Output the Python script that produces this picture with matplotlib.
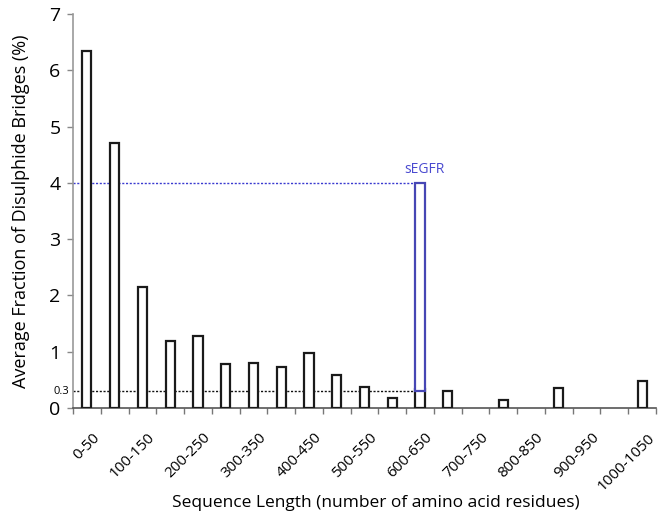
import matplotlib
matplotlib.use('Agg')
import matplotlib.pyplot as plt
import matplotlib.transforms as mtransforms
import numpy as np

plt.rcParams['font.family'] = ['Open Sans', 'DejaVu Sans']

categories = ['0-50', '50-100', '100-150', '150-200', '200-250', '250-300',
              '300-350', '350-400', '400-450', '450-500', '500-550', '550-600',
              '600-650', '650-700', '700-750', '750-800', '800-850', '850-900',
              '900-950', '950-1000', '1000-1050']
values = [6.35, 4.71, 2.15, 1.19, 1.28, 0.78, 0.80, 0.72, 0.97, 0.59, 0.38,
          0.17, 0.33, 0.30, 0.0, 0.14, 0.0, 0.36, 0.0, 0.0, 0.48]
segfr_category = '600-650'
segfr_value = 4.0
threshold = 0.3
y_ticks = [0, 1, 2, 3, 4, 5, 6, 7]

fig = plt.figure(figsize=(6.66, 5.18), dpi=100)
ax = fig.add_axes([73/666, 110/518, 583/666, 394/518])

x = np.arange(len(categories))
heights = np.array(values)
mask = heights > 0
ax.bar(x[mask], heights[mask], width=0.33, facecolor='white',
       edgecolor='#1a1a1a', linewidth=1.6, zorder=3)

seg_idx = categories.index(segfr_category)
blue = '#4646b4'
ax.bar([seg_idx], [segfr_value - threshold], bottom=threshold, width=0.33,
       facecolor='white', edgecolor=blue, linewidth=1.6, zorder=4)

ax.plot([-0.5, seg_idx - 0.165], [segfr_value, segfr_value], color='#3a3ad0',
        linestyle=(0, (1.5, 1.2)), linewidth=1.0, zorder=2)
ax.plot([-0.5, seg_idx - 0.165], [threshold, threshold], color='#111111',
        linestyle=(0, (1.5, 1.2)), linewidth=1.0, zorder=2)
ax.text(seg_idx + 0.15, segfr_value + 0.1, 'sEGFR', color='#4a4ad0',
        fontsize=10, ha='center', va='bottom')

ax.set_xlim(-0.5, len(categories) - 0.5)
ax.set_ylim(0, 7)

ax.set_yticks(y_ticks)
ax.set_yticklabels([str(t) for t in y_ticks], fontsize=14)
ax.tick_params(axis='y', length=4, width=1, color='#888888', pad=5)
ax.text(-0.62, threshold, '0.3', fontsize=8, ha='right', va='center',
        transform=ax.transData)

label_idx = list(range(0, len(categories), 2))
ax.set_xticks(label_idx)
ax.set_xticklabels([categories[i] for i in label_idx], fontsize=11,
                   rotation=45, ha='right', rotation_mode='anchor')
ax.tick_params(axis='x', which='major', length=0, pad=16)
offset = mtransforms.ScaledTranslation(0.05, 0, fig.dpi_scale_trans)
for lab in ax.get_xticklabels():
    lab.set_transform(lab.get_transform() + offset)
ax.set_xticks(np.arange(-0.5, len(categories), 1.0), minor=True)
ax.tick_params(axis='x', which='minor', length=4, width=1, color='#777777')

for s in ['top', 'right']:
    ax.spines[s].set_visible(False)
ax.spines['left'].set_color('#999999')
ax.spines['left'].set_linewidth(1.2)
ax.spines['bottom'].set_color('#555555')
ax.spines['bottom'].set_linewidth(1.2)

ax.set_ylabel('Average Fraction of Disulphide Bridges (%)', fontsize=13,
              labelpad=14)
fig.text(376/666, 1 - 503/518, 'Sequence Length (number of amino acid residues)',
         fontsize=12.5, ha='center', va='center')

fig.savefig('out.png', dpi=100, facecolor='white')
